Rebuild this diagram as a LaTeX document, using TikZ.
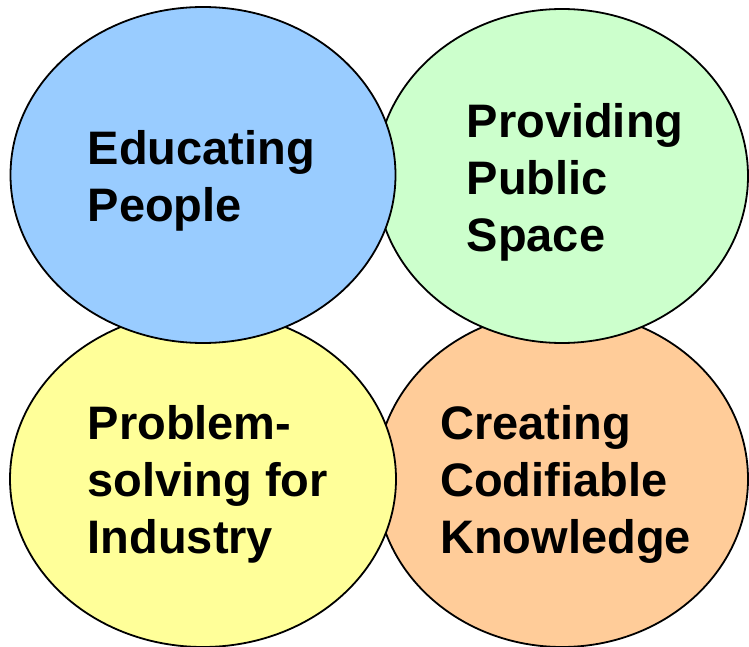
\documentclass[tikz,border=0pt]{standalone}
\usepackage{fontspec}
\setmainfont{Liberation Sans}
\usetikzlibrary{shapes.geometric}
\definecolor{cblue}{HTML}{99CCFF}
\definecolor{cgreen}{HTML}{CCFFCC}
\definecolor{cyellow}{HTML}{FFFF99}
\definecolor{corange}{HTML}{FFCC99}
\tikzset{
  bubble/.style={ellipse, draw=black, line width=1.8pt, inner sep=0pt},
  label text/.style={anchor=base west, align=left, inner sep=0pt,
    font=\fontsize{47}{57}\selectfont\bfseries}
}
\begin{document}
\begin{tikzpicture}[x=1pt,y=-1pt]
\useasboundingbox (0,0) rectangle (749,647);
\fill[white] (0,0) rectangle (749,647);
\node[bubble, fill=corange, minimum width=372pt, minimum height=336pt] (orange) at (562,479) {};
\node[bubble, fill=cgreen, minimum width=372pt, minimum height=334pt] (green) at (562,176) {};
\node[bubble, fill=cyellow, minimum width=386pt, minimum height=336pt] (yellow) at (203,479) {};
\node[bubble, fill=cblue, minimum width=385pt, minimum height=336pt] (blue) at (203,175) {};
\node[label text] (t1) at (87.5,222) {Educating\\People};
\node[label text] (t2) at (466.5,251) {Providing\\Public\\Space};
\node[label text] (t3) at (87.5,553) {Problem-\\solving for\\Industry};
\node[label text] (t4) at (440,553) {Creating\\Codifiable\\Knowledge};
\end{tikzpicture}
\end{document}
